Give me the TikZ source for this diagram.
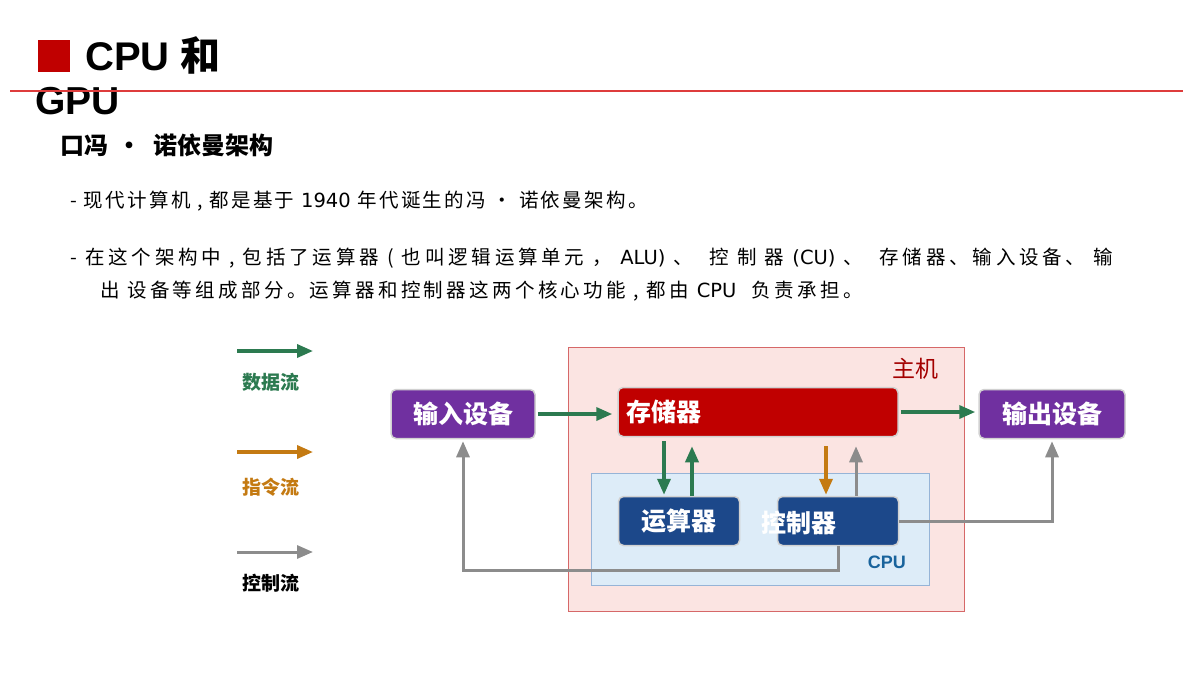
\documentclass[tikz,border=0pt]{standalone}
\usepackage{fontspec}
\setmainfont{Liberation Sans}
\newfontfamily\cjk{Noto Sans CJK SC}
\newfontfamily\lat{DejaVu Sans}
\usetikzlibrary{arrows.meta,positioning}

\definecolor{dataGreen}{RGB}{44,122,80}
\definecolor{instrOrange}{RGB}{196,122,18}
\definecolor{ctlGray}{RGB}{140,140,140}
\definecolor{ioPurple}{RGB}{112,48,160}
\definecolor{memRed}{RGB}{192,0,0}
\definecolor{ruleRed}{RGB}{222,60,60}
\definecolor{cpuBlue}{RGB}{28,72,138}
\definecolor{hostFill}{RGB}{251,228,226}
\definecolor{hostEdge}{RGB}{214,104,104}
\definecolor{cpuFill}{RGB}{221,236,248}
\definecolor{cpuEdge}{RGB}{150,180,215}

\begin{document}
\begin{tikzpicture}
      [x=1pt,y=-1pt,
        >={Triangle[length=16pt,width=13pt]},
        flow/.style={->, line width=3.5pt},
        dataflow/.style={flow, draw=dataGreen},
        instrflow/.style={flow, draw=instrOrange},
        ctlflow/.style={flow, draw=ctlGray, line width=3pt},
        unit/.style={
          rounded corners=5pt,
          draw=white!82!black, line width=1.5pt,
          text=white,
          font=\cjk\bfseries\fontsize{25}{25}\selectfont,
          inner sep=0pt,
          minimum height=49pt},
        legendtext/.style={font=\cjk\bfseries\fontsize{19}{19}\selectfont},
        bodytext/.style={anchor=west, inner sep=0pt,
          font=\cjk\fontsize{19.5}{19.5}\selectfont}]
      \useasboundingbox[fill=white] (0,0) rectangle (1200,673);

      % title
      \node[fill=memRed, minimum size=32pt, inner sep=0pt] (mark) at (54,56) {};
      \node[anchor=west, inner sep=0pt, font=\bfseries\fontsize{40}{40}\selectfont]
        (title) at (85,55) {CPU {\cjk\bfseries 和}};
      \node[anchor=west, inner sep=0pt, font=\bfseries\fontsize{39}{39}\selectfont]
        (title2) at (35,101) {GPU};
      \coordinate (ruleL) at (10,91);
      \coordinate (ruleR) at (1183,91);
      \draw[ruleRed, line width=1.2pt] (ruleL) -- (ruleR);

      % text
      \node[anchor=west, inner sep=0pt, font=\cjk\bfseries\fontsize{24}{24}\selectfont]
        (sub) at (60,145) {口冯 \,·\; 诺依曼架构};
      \node[bodytext] (line1) at (70,201)
        {\addfontfeature{LetterSpace=12}- 现代计算机 , 都是基于 {\lat 1940} 年代诞生的冯 · 诺依曼架构。};
      \node[bodytext] (line2) at (70,258)
        {\addfontfeature{LetterSpace=19.5}- 在这个架构中 , 包括了运算器 ( 也叫逻辑运算单元 ， {\lat ALU)} 、 \ 控 制 器 {\lat (CU)} 、 \ 存储器、输入设备、 输};
      \node[bodytext] (line3) at (100,291)
        {\addfontfeature{LetterSpace=17}出 设备等组成部分。运算器和控制器这两个核心功能 , 都由 {\lat CPU} \ 负责承担。};

      % legend
      \coordinate (dataL) at (237,351);
      \coordinate (dataR) at (313,351);
      \coordinate (instrL) at (237,452);
      \coordinate (instrR) at (313,452);
      \coordinate (ctlL) at (237,552);
      \coordinate (ctlR) at (313,552);
      \draw[dataflow] (dataL) -- (dataR);
      \draw[instrflow] (instrL) -- (instrR);
      \draw[ctlflow] (ctlL) -- (ctlR);
      \node[legendtext, text=dataGreen, below right=31pt and 2pt of dataL, anchor=west] (dataLbl) {数据流};
      \node[legendtext, text=instrOrange, below right=35pt and 2pt of instrL, anchor=west] (instrLbl) {指令流};
      \node[legendtext, text=black, below right=31pt and 2pt of ctlL, anchor=west] (ctlLbl) {控制流};

      % host and cpu
      \node[draw=hostEdge, fill=hostFill, line width=1pt,
        minimum width=396pt, minimum height=264pt] (host) at (766,479) {};
      \node[text=memRed!85!black, font=\cjk\fontsize{23}{23}\selectfont,
        below left=8pt and 22pt of host.north east] (hostLbl) {主机};
      \node[draw=cpuEdge, fill=cpuFill, line width=1pt,
        minimum width=338pt, minimum height=112pt] (cpu) at (760,529) {};
      \node[text=cpuBlue!85!cyan, font=\bfseries\fontsize{18}{18}\selectfont,
        above left=13pt and 20pt of cpu.south east] (cpuLbl) {CPU};

      % units
      \node[unit, fill=memRed, minimum width=280pt, text width=264pt, align=left]
        (mem) at (758,412) {存储器};
      \node[unit, fill=cpuBlue, minimum width=121pt] (alu) at (679,521) {运算器};
      \node[unit, fill=cpuBlue, minimum width=121pt] (cu) at (838,521) {};
      \node[text=white, font=\cjk\bfseries\fontsize{25}{25}\selectfont, inner sep=0pt]
        (cuLbl) at (799,523) {控制器};
      \node[unit, fill=ioPurple, minimum width=144pt] (inp) at (463,414) {输入设备};
      \node[unit, fill=ioPurple, minimum width=146pt] (out) at (1052,414) {输出设备};

      % flows
      \draw[dataflow, shorten <=2pt, shorten >=5pt] (inp.east) -- (inp.east -| mem.west);
      \draw[dataflow, shorten <=2pt, shorten >=3pt] (mem.east) -- (mem.east -| out.west);
      \draw[dataflow, shorten <=4pt, shorten >=1pt] (mem.south -| 664,0) -- (alu.north -| 664,0);
      \draw[dataflow, shorten >=9pt] (alu.north -| 692,0) -- (mem.south -| 692,0);
      \draw[instrflow, shorten <=9pt, shorten >=1pt] (mem.south -| 826,0) -- (cu.north -| 826,0);
      \draw[ctlflow, shorten >=9pt] (cu.north -| 856,0) -- (mem.south -| 856,0);
      \draw[ctlflow, shorten >=2pt] (cu.east) -| (out.south);
      \draw[ctlflow, shorten >=2pt] (cu.south) -- (cu.south |- 0,570) -| (inp.south);
    \end{tikzpicture}
\end{document}
